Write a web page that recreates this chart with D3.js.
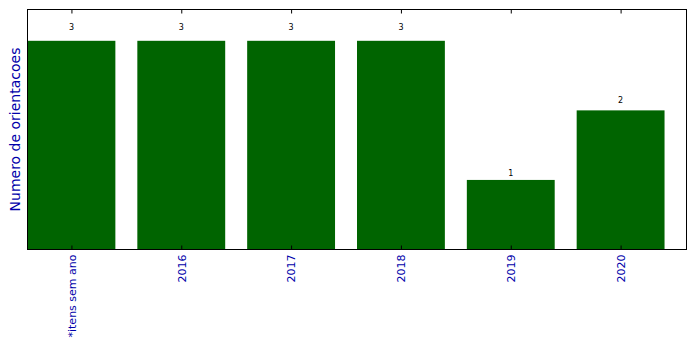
<!DOCTYPE html>
<html><head><meta charset="utf-8">
<script src="https://cdn.jsdelivr.net/npm/d3@7"></script>
<style>body{margin:0;background:#fff}svg{display:block}</style>
</head><body>
<svg id="c" width="696" height="349"></svg>
<script>
const categories = ["*itens sem ano","2016","2017","2018","2019","2020"];
const values = [3,3,3,3,1,2];
const yLabel = "Numero de orientacoes";

const svg = d3.select("#c");
const L=27.5, R=686.5, T=9.5, B=249.5;
const x = d3.scaleLinear().domain([-0.4, categories.length-0.4]).range([L,R]);
const y = d3.scaleLinear().domain([0, 3.45]).range([B,T]);
const bw = 0.8;

svg.append("g").selectAll("rect").data(values).join("rect")
  .attr("x",(d,i)=>x(i-bw/2)).attr("width",(d,i)=>x(i+bw/2)-x(i-bw/2))
  .attr("y",d=>y(d)).attr("height",d=>y(0)-y(d))
  .attr("fill","#006400");

svg.append("g").selectAll("text").data(values).join("text")
  .attr("x",(d,i)=>x(i)).attr("y",d=>y(d*1.05))
  .attr("text-anchor","middle").attr("font-family","DejaVu Sans").attr("font-size",8)
  .attr("fill","#000").text(d=>d);

const idx = categories.map((c,i)=>i);
const xb = d3.axisBottom(x).tickValues(idx).tickSize(-4).tickFormat(i=>categories[i]);
const gb = svg.append("g").attr("transform",`translate(0,${B})`).call(xb);
gb.select(".domain").remove();
gb.selectAll("line").attr("stroke","#000");
gb.selectAll("text").attr("fill","#0000aa").attr("font-family","DejaVu Sans").attr("font-size",11)
  .attr("transform","rotate(-90)").attr("text-anchor","end").attr("dy","0.35em").attr("x",-5).attr("y",0);

const xt = d3.axisTop(x).tickValues(idx).tickSize(-4).tickFormat("");
const gt = svg.append("g").attr("transform",`translate(0,${T})`).call(xt);
gt.select(".domain").remove();
gt.selectAll("line").attr("stroke","#000");

svg.append("rect").attr("x",L).attr("y",T).attr("width",R-L).attr("height",B-T)
  .attr("fill","none").attr("stroke","#000").attr("stroke-width",1);

svg.append("text").attr("transform",`translate(20,${(T+B)/2}) rotate(-90)`)
  .attr("text-anchor","middle").attr("font-family","DejaVu Sans").attr("font-size",14)
  .attr("fill","#0000aa").text(yLabel);
</script>
</body></html>
